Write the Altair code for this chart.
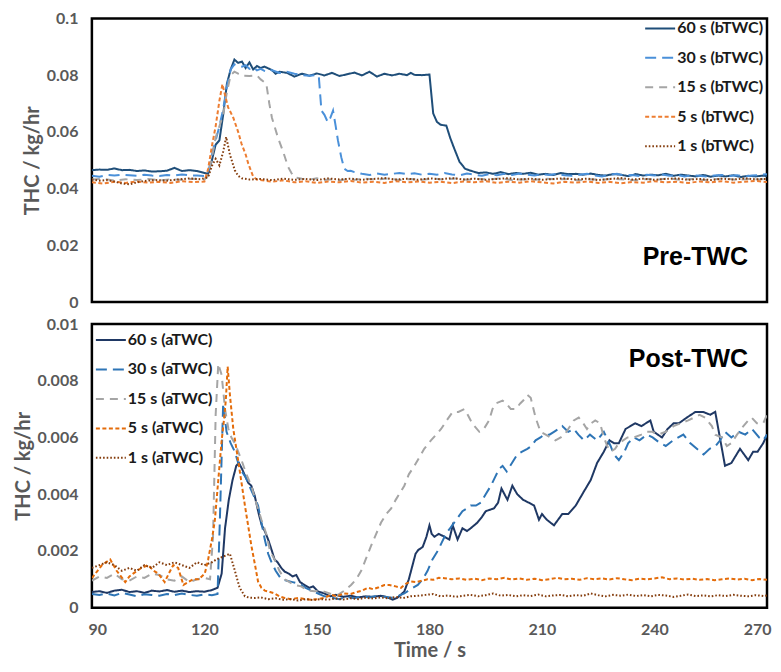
import altair as alt
import pandas as pd

# ---------------- data ----------------
PRE_SERIES = ["60 s (bTWC)", "30 s (bTWC)", "15 s (bTWC)", "5 s (bTWC)", "1 s (bTWC)"]
POST_SERIES = ["60 s (aTWC)", "30 s (aTWC)", "15 s (aTWC)", "5 s (aTWC)", "1 s (aTWC)"]
X_TICKS = [90, 120, 150, 180, 210, 240, 270]
PRE_Y_TICKS = [0, 0.02, 0.04, 0.06, 0.08, 0.1]
POST_Y_TICKS = [0, 0.002, 0.004, 0.006, 0.008, 0.01]

PRE_60 = [(90,.0465),(92,.0467),(94,.0466),(96,.0471),(98,.0465),(100,.0466),(102,.0462),(104,.0464),(106,.046),
          (108,.0461),(110,.0463),(112,.0473),(114,.0462),(116,.0465),(118,.0462),(120,.0455),(121,.0452),(122,.050),
          (123,.0555),(124,.057),(125,.066),(126,.077),(127,.082),(128,.0855),(129,.0843),(130,.0848),(131,.0825),
          (132,.0845),(133,.082),(134,.0832),(135,.0825),(136,.083),(138,.0818),(139,.0805),(140,.0812),(142,.0808),
          (144,.0795),(146,.0805),(148,.0798),(150,.0806),(152,.0799),(154,.0808),(156,.0797),(158,.0803),(160,.0809),
          (162,.0799),(164,.0812),(166,.0795),(168,.0805),(170,.0799),(172,.0805),(174,.0800),(175,.0808),(176,.0801),
          (178,.0800),(180,.0802),(181,.0665),(182,.0635),(183,.0625),(184.5,.0622),(185.5,.058),(186.5,.0545),
          (188,.0495),(189.5,.047),(191,.0463),(193,.0455),(195,.0457),(197,.0452),(199,.0458),(201,.0451),(203,.0455),
          (205,.0452),(207,.0456),(209,.0449),(211,.0452),(213,.0448),(215,.0455),(217,.0451),(219,.0452),(221,.0449),
          (223,.0453),(225,.0448),(227,.0446),(229,.0451),(231,.0449),(233,.0444),(235,.0451),(237,.0446),(239,.0449),
          (241,.0447),(243,.0452),(245,.0445),(247,.0449),(249,.0446),(251,.0443),(253,.0448),(255,.0442),(257,.0446),
          (259,.0443),(261,.0447),(263,.0441),(265,.0445),(267,.0443),(269,.0446),(270,.0444)]
PRE_30 = [(90,.0445),(92,.0442),(94,.0448),(96,.0446),(98,.0449),(100,.0447),(102,.0445),(104,.0449),(106,.0446),
          (108,.0444),(110,.0448),(112,.0446),(114,.045),(116,.0447),(118,.0446),(120,.0444),(121,.0455),(122,.052),
          (123,.057),(124,.062),(125,.068),(126,.076),(127,.082),(128,.0838),(129,.0832),(130,.083),(131,.0835),
          (132,.0822),(133,.0828),(134,.0817),(135,.0822),(136,.0815),(137,.0811),(138,.0818),(140,.0808),(142,.0812),
          (144,.0805),(146,.080),(148,.0798),(150,.0801),(150.5,.0795),(151.2,.0675),(152,.066),(152.9,.0634),
          (153.6,.065),(154.3,.0675),(155,.062),(155.6,.057),(156.5,.051),(157.3,.047),(158.2,.0462),(159,.0463),
          (160,.0458),(162,.0452),(164,.0448),(166,.0453),(168,.0449),(170,.0452),(172,.0455),(174,.0451),(176,.0454),
          (178,.0449),(180,.0452),(182,.0449),(184,.0455),(186,.045),(188,.0447),(190,.0453),(192,.0449),(194,.0445),
          (196,.0451),(198,.0447),(200,.0452),(202,.0448),(204,.0453),(206,.0449),(208,.0446),(210,.0451),(212,.0448),
          (214,.0452),(216,.0447),(218,.0445),(220,.0449),(222,.0452),(224,.0446),(226,.0443),(228,.0449),(230,.0452),
          (232,.0446),(234,.0448),(236,.0444),(238,.0449),(240,.0446),(242,.045),(244,.0445),(246,.0448),(248,.0443),
          (250,.0447),(252,.0445),(254,.0442),(256,.0446),(258,.0448),(260,.0444),(262,.0447),(264,.0443),(266,.0446),
          (268,.0448),(270,.0451)]
PRE_15 = [(90,.0432),(93,.0435),(96,.0428),(99,.0433),(102,.043),(105,.0434),(108,.0429),(111,.0433),(114,.0431),
          (117,.0435),(120,.0432),(121,.0445),(122,.051),(123,.058),(124,.062),(125,.066),(126,.074),(127,.080),
          (128,.0812),(129,.0805),(130,.0798),(132,.0797),(134,.0799),(135,.0785),(136.5,.077),(137.3,.070),(138,.065),
          (139.6,.058),(141,.053),(142.3,.0477),(143.2,.0455),(144,.044),(146,.0435),(148,.0432),(150,.0436),(152,.043),
          (154,.0433),(156,.0429),(158,.0434),(160,.0431),(163,.0435),(166,.0432),(169,.0436),(172,.043),(175,.0434),
          (178,.0431),(181,.0435),(184,.0432),(187,.0436),(190,.0431),(193,.0434),(196,.0432),(199,.0436),(202,.043),
          (205,.0433),(208,.0431),(211,.0435),(214,.0432),(217,.0434),(220,.0429),(223,.0433),(226,.0431),(229,.0435),
          (232,.0432),(235,.0429),(238,.0434),(241,.0432),(244,.0436),(247,.0431),(250,.0434),(253,.043),(256,.0433),
          (259,.0435),(262,.0431),(265,.0434),(268,.0432),(270,.0435)]
PRE_5 = [(90,.0422),(93,.0418),(96,.0424),(99,.042),(102,.0425),(105,.0421),(108,.0424),(111,.042),(114,.0426),
         (117,.0423),(120,.0425),(121,.047),(122,.055),(123,.062),(124,.071),(124.8,.0768),(125.5,.073),(126.3,.0687),
         (127.7,.065),(129,.060),(129.9,.0558),(131,.052),(131.7,.0488),(133,.0442),(134,.0432),(136,.0428),(138,.0424),
         (141,.0429),(144,.0422),(147,.0426),(150,.042),(153,.0425),(156,.0422),(159,.0427),(162,.0421),(165,.0424),
         (168,.042),(171,.0426),(174,.0422),(177,.0425),(180,.0421),(183,.0424),(186,.0419),(189,.0425),(192,.0422),
         (195,.0426),(198,.042),(201,.0424),(204,.0421),(207,.0426),(210,.0422),(213,.0418),(216,.0424),(219,.0421),
         (222,.0425),(225,.042),(228,.0424),(231,.0419),(234,.0423),(237,.0421),(240,.0426),(243,.0422),(246,.0424),
         (249,.042),(252,.0425),(255,.0422),(258,.0426),(261,.0421),(264,.0424),(267,.0427),(270,.0423)]
PRE_1 = [(90,.0432),(92,.0428),(94,.043),(96,.0425),(98,.0418),(100,.0415),(102,.0422),(104,.0427),(107,.043),
         (110,.0428),(113,.0432),(116,.0436),(119,.0433),(121,.044),(122,.048),(123,.0505),(124,.0482),(125,.053),
         (125.8,.0582),(126.8,.052),(128.1,.0465),(129,.0445),(130,.0436),(132,.0432),(135,.0434),(138,.043),(141,.0435),
         (144,.0431),(147,.0434),(150,.043),(153,.0436),(156,.0432),(159,.0435),(162,.0431),(165,.0434),(168,.0437),
         (171,.0432),(174,.0435),(177,.0431),(180,.0436),(183,.0433),(186,.0437),(189,.0432),(192,.0435),(195,.0431),
         (198,.0434),(201,.0437),(204,.0432),(207,.0435),(210,.0431),(213,.0434),(216,.0436),(219,.0432),(222,.0435),
         (225,.043),(228,.0434),(231,.0437),(234,.0432),(237,.0435),(240,.0431),(243,.0434),(246,.0436),(249,.0431),
         (252,.0434),(255,.043),(258,.0435),(261,.0432),(264,.0436),(267,.0433),(270,.0434)]

POST_60 = [(90,.00055),(92,.00058),(94,.00052),(96,.0006),(98,.00063),(100,.00055),(102,.00058),(104,.00052),
           (106,.0006),(108,.00057),(110,.00062),(112,.00056),(114,.0006),(116,.00055),(118,.00058),(120,.00056),
           (122,.00062),(123.5,.0007),(124.6,.0012),(125.5,.0028),(126.5,.0038),(127.5,.0045),(128.5,.0050),
           (129.2,.0051),(130,.0049),(131,.0046),(131.7,.0044),(132.5,.0043),(133.4,.00395),(134.5,.0033),(135.3,.0029),
           (136.1,.0027),(137,.0024),(138,.0020),(138.7,.0017),(139.5,.0016),(140.5,.0014),(141.4,.00127),(142.5,.0012),
           (143.5,.0011),(144.5,.00115),(145.5,.0009),(146.7,.0008),(148,.0007),(149,.00075),(150.3,.00057),(152,.0005),
           (153.5,.0004),(155,.00045),(157,.00038),(159,.00042),(161,.00036),(163,.0004),(165,.00038),(167,.00042),
           (168.5,.00038),(170.2,.00028),(171.5,.00035),(173.3,.00057),(174.5,.0010),(175.5,.0015),(176.3,.0019),
           (177,.00203),(178.2,.00214),(179.2,.0025),(180,.0029),(180.6,.0026),(181.3,.0025),(182.5,.0026),(184,.0025),
           (185.3,.0024),(186.2,.0029),(187.5,.0024),(188.8,.0028),(190,.0027),(191,.0028),(192.8,.0030),(194,.0032),
           (195,.0034),(197.2,.0035),(198.3,.0037),(199.2,.0042),(200.8,.0038),(202.1,.0043),(203.4,.0040),(205,.0038),
           (206.5,.0037),(207.9,.0036),(209.2,.0031),(210,.0033),(211.3,.0031),(213.2,.0029),(215.4,.0033),(217,.0033),
           (219,.0036),(221.2,.0041),(223,.0045),(224.7,.0051),(226.5,.0055),(228,.0059),(229.2,.0058),(230.5,.0058),
           (232.3,.0063),(233.6,.0064),(234.9,.0065),(236.5,.0064),(238.9,.0066),(239.8,.0062),(242,.0060),(243.5,.0063),
           (245.1,.0065),(246.5,.0065),(248.6,.0067),(250.9,.0069),(253,.0069),(254.9,.0068),(256.2,.0069),(258.8,.0050),
           (260.5,.0051),(262.8,.0056),(265,.0052),(266.3,.0055),(267.5,.0055),(269,.0058),(270,.0061)]
POST_30 = [(90,.00048),(92,.00045),(94,.0005),(96,.00043),(98,.00052),(100,.00046),(102,.0004),(104,.00047),
           (106,.00045),(108,.00042),(110,.00048),(112,.00044),(114,.0005),(116,.00045),(118,.00042),(120,.00047),
           (122,.00044),(123.5,.00048),(124.1,.0030),(125,.0072),(125.9,.0062),(127,.0058),(128.1,.0055),(129,.0051),
           (130,.0048),(131,.0046),(132.3,.0042),(133.3,.0039),(134.3,.0036),(135.2,.0030),(136.1,.0024),(137,.0019),
           (137.8,.00163),(139,.0013),(140.5,.0010),(142,.00095),(143.5,.0009),(145,.00085),(145.8,.0008),(147,.0007),
           (148.5,.0006),(150.3,.0005),(152,.0004),(154,.00035),(156,.0003),(158,.00038),(160,.00033),(162,.0004),
           (164,.00036),(166,.00042),(168,.00038),(170,.00035),(171.5,.0004),(173.3,.0005),(175,.00065),(176.9,.0008),
           (178.2,.0010),(179.5,.0013),(180.8,.0017),(182.2,.0020),(183.3,.0023),(184.4,.0026),(185.5,.0028),
           (186.6,.0030),(187.7,.0032),(188.8,.0034),(190,.0035),(191,.0036),(192.4,.0036),(193.7,.0037),(195,.0040),
           (196.4,.0043),(197.5,.0046),(198.6,.0049),(199.5,.0050),(200.6,.0048),(202,.0051),(203.4,.0054),(204.7,.0055),
           (206.1,.0056),(207.2,.0057),(208.3,.0059),(209.6,.0060),(210.5,.0061),(212,.0061),(213.2,.0062),(214.4,.0063),
           (215.4,.0064),(217,.0062),(218.5,.0063),(219.7,.0061),(221.2,.0059),(222.8,.0061),(224.7,.0059),(226.5,.0062),
           (228.3,.0057),(229.2,.0054),(230.5,.0052),(232,.0055),(233,.0058),(234.5,.0060),(236,.0059),(238,.0061),
           (239.5,.0060),(241.5,.0058),(243,.0057),(245,.0059),(247.7,.0061),(249.5,.0058),(251.3,.0056),(253.1,.0054),
           (254.7,.0056),(256.3,.0057),(257.5,.0059),(258.8,.0062),(260.5,.0060),(262.4,.0062),(264.2,.0061),(266,.0063),
           (267.9,.0060),(269,.0059),(270,.0061)]
POST_15 = [(90,.00095),(92,.0011),(94,.00105),(96,.0012),(98,.0010),(100,.00095),(102,.0011),(104,.00105),(106,.0012),
           (108,.00115),(110,.0010),(112,.00095),(114,.0011),(116,.0009),(118,.0010),(120,.00105),(121.5,.0010),
           (122.3,.0025),(123,.0068),(123.7,.0086),(124.6,.0082),(125.5,.0070),(126.4,.0063),(127.2,.0060),(128.1,.0058),
           (129,.0055),(129.9,.0052),(131.2,.0047),(132.5,.0043),(133.8,.0037),(135.2,.0031),(136.5,.0026),(137.5,.0020),
           (138.7,.0017),(140,.0013),(141.4,.0010),(142.7,.0009),(144,.0008),(145.8,.00075),(147.6,.0006),(149.4,.00058),
           (151.2,.0006),(153.4,.0005),(155.6,.00045),(157.3,.0006),(159.1,.0008),(160.5,.0010),(161.8,.0013),
           (163,.0017),(164.5,.0022),(165.8,.0026),(167.1,.0030),(168.5,.0033),(169.8,.0035),(171,.0038),(172.4,.0041),
           (173.3,.0043),(174.5,.0047),(176,.0050),(177.3,.0053),(178.6,.0056),(180.4,.0059),(181.8,.0061),(183.1,.0063),
           (184.6,.0066),(186.2,.0069),(187.7,.0069),(189.3,.0070),(190.2,.0068),(191,.0066),(192,.0064),(193.3,.0062),
           (194.5,.0063),(195.9,.0066),(196.8,.0070),(197.7,.0072),(199.5,.0073),(200.5,.0072),(201.7,.0070),(203,.0070),
           (204.2,.0072),(205,.0073),(206.1,.0075),(207,.0074),(208.3,.0067),(209.6,.0062),(211,.0061),(212.3,.0060),
           (213.6,.0059),(215,.0060),(216,.0061),(217,.0063),(218.5,.0066),(219.8,.0067),(221,.0065),(222,.0063),
           (223.1,.0065),(224.2,.0066),(225.5,.0065),(226.5,.0060),(227.4,.0057),(228.3,.0055),(229.5,.0056),
           (230.5,.0058),(232.8,.0060),(234.5,.0060),(236.5,.0061),(238,.0062),(239.4,.0062),(241,.0061),(243,.0062),
           (245.1,.0064),(247,.0065),(249,.0066),(250.5,.0067),(252,.0068),(253.5,.0067),(255.3,.0064),(256.2,.0061),
           (258,.0060),(259.3,.0057),(260.5,.0058),(262,.0061),(263.7,.0064),(265,.0066),(265.9,.0067),(267.3,.0065),
           (269,.0065),(270,.0068)]
POST_5 = [(90,.00104),(91.5,.0013),(92.7,.0015),(94.9,.0017),(96.6,.0013),(98.9,.0009),(100,.0011),(101,.0012),
          (103.2,.0014),(105,.0015),(106.5,.0013),(107.7,.0012),(109.4,.0009),(110.5,.0012),(111.7,.0015),(113,.0014),
          (114.4,.0008),(115.7,.0009),(117,.0010),(118.5,.0010),(120.1,.0012),(121,.0017),(122,.0024),(122.8,.0031),
          (123.7,.0045),(124.6,.0059),(125.2,.0066),(125.7,.0073),(126.2,.0085),(126.8,.0075),(127.7,.0063),
          (129.1,.0051),(130.8,.0036),(132.5,.0022),(133.5,.0015),(134.3,.00092),(135.2,.0007),(136.1,.0006),
          (137.5,.00055),(138.7,.0005),(140,.0004),(141.4,.00034),(143,.0003),(145,.00034),(147,.0003),(148.5,.00028),
          (150.3,.0003),(152,.00035),(153.8,.00045),(155.5,.0004),(157,.0005),(159,.00048),(160.5,.00055),(162,.0006),
          (163.6,.0007),(165,.00065),(166.5,.00072),(168,.0008),(169.3,.0008),(171,.00075),(172.4,.0007),(173.8,.00085),
          (175.1,.00092),(176.5,.0009),(178,.00095),(179.5,.0010),(181,.00098),(182.5,.00105),(184,.00104),(186,.0010),
          (188,.00103),(190,.00098),(192,.00102),(194,.00097),(196,.00103),(198,.0010),(200,.00105),(202,.00099),
          (204,.00103),(206,.00098),(208,.00102),(210,.00097),(212,.001),(214,.00105),(216,.0010),(218,.00102),
          (220,.00098),(222,.00104),(224,.0010),(226,.00103),(228,.00099),(230,.00104),(232,.0010),(234,.00097),
          (236,.00102),(238,.0010),(240,.00103),(242,.00107),(244,.0010),(246,.00103),(248,.00099),(250,.00102),
          (252,.00098),(254,.00101),(256,.00097),(258,.001),(260,.00103),(262,.00099),(264,.00102),(266,.00097),
          (268,.00101),(270,.00098)]
POST_1 = [(90,.0014),(92,.0015),(94,.0016),(96,.0015),(98,.0013),(100,.0014),(102,.0013),(104,.0015),(106,.0014),
          (108,.0016),(110,.0015),(112,.0016),(114,.0015),(116,.0014),(118,.0016),(120,.0015),(122,.0016),(123.2,.0017),
          (125,.0018),(126.8,.0019),(127.9,.0014),(129.4,.0007),(130.8,.0004),(132,.00035),(133.4,.00034),(135,.00036),
          (137,.0003),(139,.00033),(141,.00028),(143,.0003),(145,.00025),(147,.0003),(149,.00027),(151,.0003),
          (153,.00028),(155,.00032),(157,.00029),(159,.00033),(161,.0003),(163,.00035),(165,.00032),(167,.00036),
          (169,.00033),(171,.00038),(173,.00034),(175,.0004),(177,.00042),(179,.00045),(181,.00048),(183,.0004),
          (185,.00043),(187,.00038),(189,.00042),(191,.00045),(193,.0004),(195,.00044),(197,.0005),(199,.00042),
          (201,.00045),(203,.0004),(205,.00044),(207,.00041),(209,.00046),(211,.0004),(213,.00043),(215,.00045),
          (217,.0004),(219,.00044),(221,.00042),(223,.0005),(225,.00044),(227,.0004),(229,.00045),(231,.00042),
          (233,.00046),(235,.00041),(237,.00044),(239,.0004),(241,.00045),(243,.00043),(245,.00038),(247,.00042),
          (249,.00046),(251,.00041),(253,.00043),(255,.0004),(257,.00044),(259,.00041),(261,.00045),(263,.00042),
          (265,.0004),(267,.00044),(269,.00041),(270,.00043)]

# ---------------- styles ----------------
PRE_COLORS = ["#1F4E79", "#4A90D9", "#A5A5A5", "#ED7D31", "#843C0C"]
POST_COLORS = ["#1F3864", "#2E75B6", "#A5A5A5", "#E46C0A", "#843C0C"]
DASHES = [[1, 0], [11, 6], [8, 6], [4, 2.5], [1.6, 2]]

AXIS_GRAY = "#595959"
FONT = "Lato"
PANEL_W = 676
PANEL_H = 284


def frame(series_names, series_data):
    rows = []
    for name, pts in zip(series_names, series_data):
        for t, v in pts:
            rows.append({"t": t, "v": v, "series": name})
    return pd.DataFrame(rows)


def panel(df, names, colors, ymax, yticks, leg_x, leg_y, label, label_y, bottom):
    leg = alt.Legend(
        title=None, orient="none", legendX=leg_x, legendY=leg_y,
        symbolType="stroke", symbolSize=900, symbolStrokeWidth=2,
        labelFont=FONT, labelFontSize=16, labelFontWeight="bold", labelColor="#1a1a1a",
        labelOffset=1, rowPadding=5.5, padding=0,
    )
    if bottom:
        xaxis = alt.Axis(values=X_TICKS, format="d", title="Time / s", labelPadding=14,
                         labelFlush=True, labelFlushOffset=4, titlePadding=3, titleFontSize=20)
    else:
        xaxis = None
    lines = alt.Chart(df).mark_line(strokeWidth=2, clip=True).encode(
        x=alt.X("t:Q", scale=alt.Scale(domain=[90, 270], nice=False, zero=False), axis=xaxis),
        y=alt.Y("v:Q", scale=alt.Scale(domain=[0, ymax], nice=False),
                axis=alt.Axis(values=yticks, format="~g", title="THC / kg/hr")),
        color=alt.Color("series:N", scale=alt.Scale(domain=names, range=colors), legend=leg),
        strokeDash=alt.StrokeDash("series:N", scale=alt.Scale(domain=names, range=DASHES), legend=leg),
    )
    txt = alt.Chart(pd.DataFrame({"label": [label]})).mark_text(
        font="Liberation Sans", fontSize=25, fontWeight="bold", color="black",
        align="right", baseline="middle",
    ).encode(x=alt.value(657), y=alt.value(label_y), text="label:N")
    return alt.layer(lines, txt).properties(width=PANEL_W, height=PANEL_H)


pre_df = frame(PRE_SERIES, [PRE_60, PRE_30, PRE_15, PRE_5, PRE_1])
post_df = frame(POST_SERIES, [POST_60, POST_30, POST_15, POST_5, POST_1])

top = panel(pre_df, PRE_SERIES, PRE_COLORS, 0.1, PRE_Y_TICKS, 553, -6, "Pre-TWC", 239, False)
bot = panel(post_df, POST_SERIES, POST_COLORS, 0.01, POST_Y_TICKS, 3, 0, "Post-TWC", 35, True)

chart = alt.vconcat(top, bot, spacing=22, bounds="flush").resolve_scale(
    color="independent", strokeDash="independent", x="independent", y="independent"
).resolve_legend(color="independent", strokeDash="independent").properties(
    padding={"left": 3, "top": 0, "right": 0, "bottom": 0}
).configure_view(
    stroke="black", strokeWidth=2.5
).configure_axis(
    grid=False, ticks=False, domain=False,
    labelFont=FONT, labelFontSize=16, labelFontWeight="bold", labelColor=AXIS_GRAY,
    titleFont=FONT, titleFontSize=20, titleFontWeight="bold", titleColor=AXIS_GRAY,
).configure_axisY(labelPadding=14, titlePadding=4)

chart.save("out.html", embed_options={"renderer": "svg", "actions": False})
